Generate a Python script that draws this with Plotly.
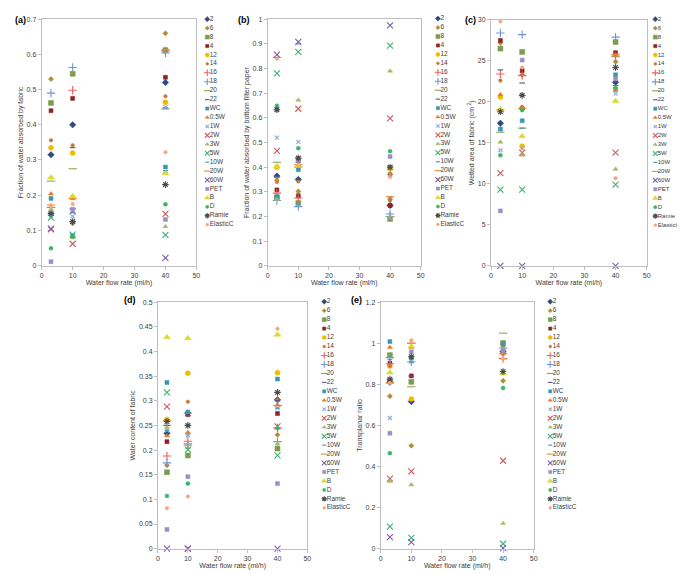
import plotly.graph_objects as go

names = ["2", "6", "8", "4", "12", "14", "16", "18", "20", "22", "WC", "0.5W", "1W", "2W",
         "3W", "5W", "10W", "20W", "60W", "PET", "B", "D", "Ramie", "ElasticC"]
flow = [3, 10, 40]

# Panel (a) fraction of water absorbed by fabric
a_x3 = [0.315, 0.53, 0.462, 0.44, 0.335, 0.356, 0.165, 0.49, 0.24, 0.15, 0.191, 0.204, 0.14, 0.103,
        0.16, 0.136, 0.145, 0.172, 0.105, 0.011, 0.25, 0.049, 0.148, 0.168]
a_x10 = [0.40, 0.12, 0.545, 0.475, 0.32, 0.342, 0.498, 0.563, 0.275, 0.335, 0.085, 0.19, 0.14, 0.062,
         0.08, 0.088, 0.15, 0.19, 0.155, 0.16, 0.197, 0.082, 0.125, 0.175]
a_x40 = [0.52, 0.66, 0.612, 0.535, 0.464, 0.481, 0.61, 0.604, 0.445, 0.448, 0.28, 0.265, 0.45, 0.147,
         0.111, 0.087, 0.27, 0.613, 0.022, 0.131, 0.262, 0.174, 0.23, 0.322]
# Panel (b) fraction absorbed by bottom filter paper
b_x3 = [0.364, 0.275, 0.278, 0.308, 0.40, 0.34, 0.295, 0.265, 0.42, 0.36, 0.28, 0.35, 0.52, 0.466,
        0.27, 0.78, 0.36, 0.845, 0.856, 0.635, 0.403, 0.649, 0.633, 0.84]
b_x10 = [0.35, 0.302, 0.255, 0.284, 0.40, 0.342, 0.275, 0.24, 0.40, 0.42, 0.39, 0.41, 0.503, 0.637,
         0.672, 0.868, 0.90, 0.41, 0.908, 0.43, 0.405, 0.477, 0.437, 0.41]
b_x40 = [0.245, 0.27, 0.19, 0.245, 0.395, 0.265, 0.20, 0.21, 0.20, 0.405, 0.37, 0.375, 0.195, 0.598,
         0.79, 0.893, 0.28, 0.28, 0.975, 0.443, 0.395, 0.465, 0.40, 0.36]
# Panel (c) wetted area of fabric
c_x3 = [17.4, 27.2, 26.5, 27.5, 20.6, 22.6, 23.4, 28.4, 16.3, 23.9, 16.7, 20.9, 14.1, 11.3,
        15.1, 9.3, 16.5, 19.0, 0, 6.7, 19.1, 13.5, 18.8, 29.8]
c_x10 = [19.2, 23.3, 26.1, 23.8, 14.6, 19.4, 23.2, 28.2, 16.8, 22.3, 17.7, 19.3, 14.3, 13.8,
         13.5, 9.3, 16.8, 19.2, 0, 25.1, 15.8, 19.0, 20.8, 24.2]
c_x40 = [22.4, 24.9, 27.3, 26.0, 21.6, 25.7, 25.5, 27.9, 25.6, 22.0, 23.3, 21.4, 21.0, 13.8,
         11.8, 9.9, 22.0, 25.8, 0, 22.8, 20.1, 21.7, 24.2, 10.7]
# Panel (d) water content of fabric
d_x3 = [0.234, 0.169, 0.155, 0.217, 0.262, 0.258, 0.188, 0.174, 0.25, 0.25, 0.337, 0.229, 0.24, 0.288,
        0.246, 0.317, 0.24, 0.26, 0, 0.039, 0.4286, 0.107, 0.258, 0.082]
d_x10 = [0.275, 0.233, 0.189, 0.272, 0.356, 0.298, 0.218, 0.21, 0.275, 0.27, 0.277, 0.236, 0.23, 0,
         0.205, 0.201, 0.275, 0.213, 0, 0.146, 0.4266, 0.132, 0.25, 0.106]
d_x40 = [0.302, 0.231, 0.203, 0.274, 0.357, 0.302, 0.245, 0.217, 0.29, 0.30, 0.344, 0.292, 0.285, 0.248,
         0.213, 0.189, 0.285, 0.29, 0, 0.132, 0.434, 0.244, 0.317, 0.446]
# Panel (e) transplanar ratio
e_x3 = [0.81, 0.742, 0.942, 0.902, 0.889, 0.89, 0.90, 0.93, 0.806, 0.82, 1.008, 0.98, 0.636, 0.341,
        0.328, 0.107, 0.92, 0.81, 0.056, 0.562, 0.857, 0.465, 0.825, 0.806]
e_x10 = [0.716, 0.501, 0.812, 0.841, 0.729, 0.93, 1.0, 0.91, 0.788, 0.84, 0.93, 0.98, 0.91, 0.376,
         0.311, 0.053, 0.908, 1.0, 0.032, 0.958, 0.985, 0.93, 0.934, 1.014]
e_x40 = [0.96, 0.817, 1.001, 0.96, 0.99, 0.948, 0.925, 0.977, 1.049, 0.96, 0.995, 0.95, 0.97, 0.428,
         0.123, 0.024, 0.96, 0.95, 0.003, 0.965, 0.852, 0.782, 0.862, 0.924]

colors = ["#2E4A7E", "#B08B3A", "#7C9B4E", "#8B2323", "#F5B800", "#C7773B", "#F0605A", "#6F97D6",
          "#8DA656", "#5F4B8B", "#3D95AE", "#E07B2C", "#8CA9D6", "#D2585A", "#A3BB64", "#3CB371",
          "#3A8FC4", "#F08A2E", "#7A5BB0", "#9B8FC7", "#D8DB2C", "#3DB465", "#4A4A4A", "#F4A582"]
symbols = ["diamond", "diamond", "square", "square", "circle", "circle", "cross-thin-open",
           "cross-thin-open", "line-ew-open", "line-ew-open", "square", "triangle-up", "x-thin-open",
           "x-thin-open", "triangle-up", "x-thin-open", "line-ew-open", "line-ew-open", "x-thin-open",
           "square", "triangle-up", "circle", "asterisk-open", "circle"]
sizes = [5, 4, 5, 4, 5, 3.5, 6, 6, 6, 4, 4, 4.5, 4, 6, 4.5, 6, 3.5, 6, 6, 4, 6, 4, 5.5, 3.5]

panels = [
    ("(a)", [a_x3, a_x10, a_x40], [0, 0.7], 0.1, "Fraction of water absorbed by fabric",
     (32, 188), (7.3, 256.7), (199, 7.3, 215.3, 6.5), (3, 8)),
    ("(b)", [b_x3, b_x10, b_x40], [0, 1], 0.1, "Fraction of water absorbed by bottom filter paper",
     (260, 414.3), (7.3, 257), (431.7, 6.7, 215, 6.5), (228, 8)),
    ("(c)", [c_x3, c_x10, c_x40], [0, 30], 5, "Wetted area of fabric (cm<sup> 2</sup>)",
     (485.3, 642.3), (8, 257), (651, 7.3, 215.7, 6), (457, 8)),
    ("(d)", [d_x3, d_x10, d_x40], [0, 0.5], 0.05, "Water content of fabric",
     (149.3, 300), (293.7, 543.3), (317, 293.3, 502, 6.5), (113, 292)),
    ("(e)", [e_x3, e_x10, e_x40], [0, 1.2], 0.2, "Transplanar ratio",
     (374, 528.3), (293.7, 543.3), (545, 293.3, 502, 6.5), (342, 292)),
]

W, H = 685, 574
FONT = "Liberation Sans"
fig = go.Figure()
layout = dict(width=W, height=H, margin=dict(l=0, r=0, t=0, b=0), showlegend=False,
              paper_bgcolor="white", plot_bgcolor="white",
              font=dict(family=FONT, size=7, color="#404040"))
annotations = []

def marker_for(i, scale=1.0):
    sym = symbols[i]
    s = sizes[i] * scale
    if sym.endswith("open"):
        return dict(symbol=sym, size=s, color=colors[i], line=dict(color=colors[i], width=1.1))
    return dict(symbol=sym, size=s, color=colors[i], line=dict(color=colors[i], width=0.5))

n = len(names)
for p, (lab, cols, yr, dt, ytitle, xpx, ypx, leg, labpos) in enumerate(panels):
    k = p + 1
    xa = "x" if k == 1 else f"x{k}"
    ya = "y" if k == 1 else f"y{k}"
    for i in range(n):
        yv = [cols[0][i], cols[1][i], cols[2][i]]
        fig.add_trace(go.Scatter(x=flow, y=yv, mode="markers", name=names[i], xaxis=xa, yaxis=ya,
                                 marker=marker_for(i), cliponaxis=False))
    axline = dict(showline=True, linecolor="#BFBFBF", linewidth=1, mirror=True, showgrid=False,
                  zeroline=False, ticks="outside", ticklen=3, tickcolor="#BFBFBF",
                  tickfont=dict(size=7, color="#404040", family=FONT))
    layout[f"xaxis{k}"] = dict(domain=[xpx[0] / W, xpx[1] / W], range=[0, 50], dtick=10, anchor=ya,
                               title=dict(text="Water flow rate (ml/h)", font=dict(size=7, family=FONT), standoff=1),
                               **axline)
    layout[f"yaxis{k}"] = dict(domain=[1 - ypx[1] / H, 1 - ypx[0] / H], range=yr, dtick=dt, anchor=xa,
                               title=dict(text=ytitle, font=dict(size=7, family=FONT), standoff=2),
                               **axline)
    annotations.append(dict(text=f"<b>{lab}</b>", xref="paper", yref="paper",
                            x=labpos[0] / W, y=1 - labpos[1] / H, xanchor="left", yanchor="middle",
                            showarrow=False, font=dict(size=9, family=FONT, color="black")))
    # legend panel
    lk = k + 5
    lxa, lya = f"x{lk}", f"y{lk}"
    mx, ytop, ybot, lfs = leg
    step = (ybot - ytop) / (n - 1)
    left = mx - 5
    right = min(W, mx + 45)
    layout[f"xaxis{lk}"] = dict(domain=[left / W, right / W], range=[0, right - left], visible=False,
                                anchor=lya, fixedrange=True)
    layout[f"yaxis{lk}"] = dict(domain=[1 - (ybot + step / 2) / H, 1 - (ytop - step / 2) / H],
                                range=[n - 0.5, -0.5], visible=False, anchor=lxa, fixedrange=True)
    for i in range(n):
        fig.add_trace(go.Scatter(x=[5], y=[i], mode="markers", xaxis=lxa, yaxis=lya,
                                 marker=marker_for(i, 0.8), hoverinfo="skip", cliponaxis=False))
    fig.add_trace(go.Scatter(x=[7.5] * n, y=list(range(n)), mode="text", text=names, textposition="middle right",
                             textfont=dict(size=lfs, family=FONT, color="#404040"), xaxis=lxa, yaxis=lya,
                             hoverinfo="skip", cliponaxis=False))

layout["annotations"] = annotations
fig.update_layout(**layout)
fig.write_html("out.html")
